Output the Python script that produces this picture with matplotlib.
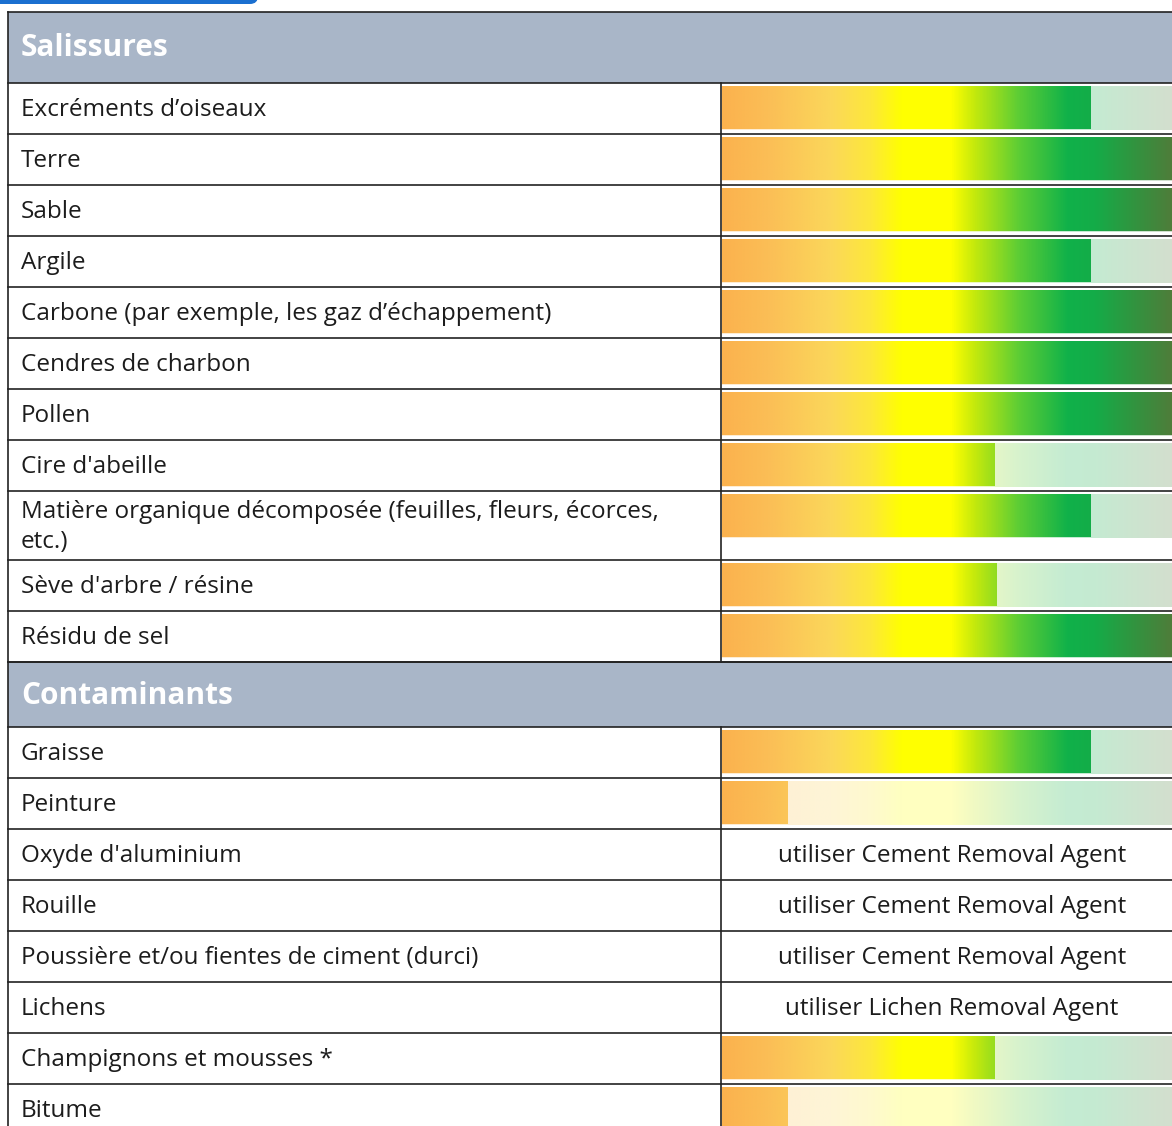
import numpy as np
import matplotlib
matplotlib.use("Agg")
import matplotlib.pyplot as plt
from matplotlib.colors import LinearSegmentedColormap
from matplotlib.patches import Rectangle, FancyBboxPatch

plt.rcParams['font.family'] = ['Open Sans', 'DejaVu Sans']

# --- data
sections = ["Salissures", "Contaminants"]

salissures_labels = [
    "Excréments d’oiseaux",
    "Terre",
    "Sable",
    "Argile",
    "Carbone (par exemple, les gaz d’échappement)",
    "Cendres de charbon",
    "Pollen",
    "Cire d'abeille",
    "Matière organique décomposée (feuilles, fleurs, écorces,\netc.)",
    "Sève d'arbre / résine",
    "Résidu de sel",
]
# efficacité = part de la colonne remplie (1.0 = pleine)
salissures_values = [0.82, 1.0, 1.0, 0.82, 1.0, 1.0, 1.0, 0.605, 0.82, 0.61, 1.0]

contaminants_labels = [
    "Graisse",
    "Peinture",
    "Oxyde d'aluminium",
    "Rouille",
    "Poussière et/ou fientes de ciment (durci)",
    "Lichens",
    "Champignons et mousses *",
    "Bitume",
]
contaminants_values = [0.82, 0.145, None, None, None, None, 0.605, 0.145]
contaminants_notes = [None, None,
                      "utiliser Cement Removal Agent",
                      "utiliser Cement Removal Agent",
                      "utiliser Cement Removal Agent",
                      "utiliser Lichen Removal Agent",
                      None, None]

# gradient (position relative dans la colonne, couleur)
grad_stops = [
    (0.00, "#fbb24e"), (0.10, "#fbbe56"), (0.24, "#fbd75a"), (0.33, "#fde83a"),
    (0.40, "#ffff00"), (0.51, "#ffff00"), (0.56, "#c6ea0c"), (0.66, "#5dcd35"),
    (0.77, "#10b14a"), (0.83, "#14ac48"), (0.91, "#2f9640"), (1.00, "#4e7d3a"),
]
cmap = LinearSegmentedColormap.from_list("eff", grad_stops)

# --- layout (pixels)
W, H = 1172, 1126
LEFT = 8
DIV = 721
COL0, COL1 = 722, 1172
ROW_H = 51
ROW_H2 = 69
HEAD_H = [71, 65]
TOP = 12
LINE_C = "#222222"
HEAD_C = "#a9b6c8"
TXT_C = "#1c1c1c"
FS = 17.5

fig = plt.figure(figsize=(W / 100, H / 100), dpi=100)
ax = fig.add_axes([0, 0, 1, 1])
ax.set_xlim(0, W)
ax.set_ylim(H, 0)
ax.axis("off")

# onglet bleu en haut à gauche
ax.add_patch(FancyBboxPatch((-20, -10), 278, 14, boxstyle="round,pad=0,rounding_size=8",
                            fc="#1a6fd0", ec="none", zorder=1))

grad = np.linspace(0, 1, 512).reshape(1, -1)


def draw_bar(y, h, val):
    # fond pâle
    ax.imshow(grad, extent=[COL0, COL1, y + h - 4, y + 3], cmap=cmap, vmin=0, vmax=1,
              aspect="auto", alpha=0.25, zorder=2, interpolation="bilinear")
    end = COL0 + val * (COL1 - COL0)
    part = np.linspace(0, val, 512).reshape(1, -1)
    ax.imshow(part, extent=[COL0, end, y + 46, y + 3], cmap=cmap, vmin=0, vmax=1,
              aspect="auto", zorder=3, interpolation="bilinear")


y = TOP
for s, (name, labels, values, notes) in enumerate([
        (sections[0], salissures_labels, salissures_values, [None] * len(salissures_labels)),
        (sections[1], contaminants_labels, contaminants_values, contaminants_notes)]):
    hh = HEAD_H[s]
    ax.add_patch(Rectangle((LEFT, y), W - LEFT, hh, fc=HEAD_C, ec="none", zorder=1))
    ax.text(21, y + hh / 2 + 1, name, color="white", fontsize=21.5, fontweight="bold",
            ha="left", va="center", zorder=5)
    ax.plot([LEFT, W], [y, y], color=LINE_C, lw=1.2, zorder=6)
    y += hh
    ax.plot([LEFT, W], [y, y], color=LINE_C, lw=1.2, zorder=6)
    y_start = y
    for lab, val, note in zip(labels, values, notes):
        h = ROW_H2 if "\n" in lab else ROW_H
        ax.text(21, y + h / 2 + 1.5, lab, color=TXT_C, fontsize=FS, ha="left",
                va="center", linespacing=1.3, zorder=5)
        if val is not None:
            draw_bar(y, ROW_H, val)
        if note:
            ax.text(952, y + h / 2 + 1.5, note, color=TXT_C, fontsize=FS, ha="center",
                    va="center", zorder=5)
        y += h
        ax.plot([LEFT, W], [y, y], color=LINE_C, lw=1.2, zorder=6)
    ax.plot([DIV, DIV], [y_start, y], color=LINE_C, lw=1.2, zorder=6)

ax.plot([LEFT, LEFT], [TOP, H], color=LINE_C, lw=1.2, zorder=6)

fig.savefig("out.png", dpi=100)
